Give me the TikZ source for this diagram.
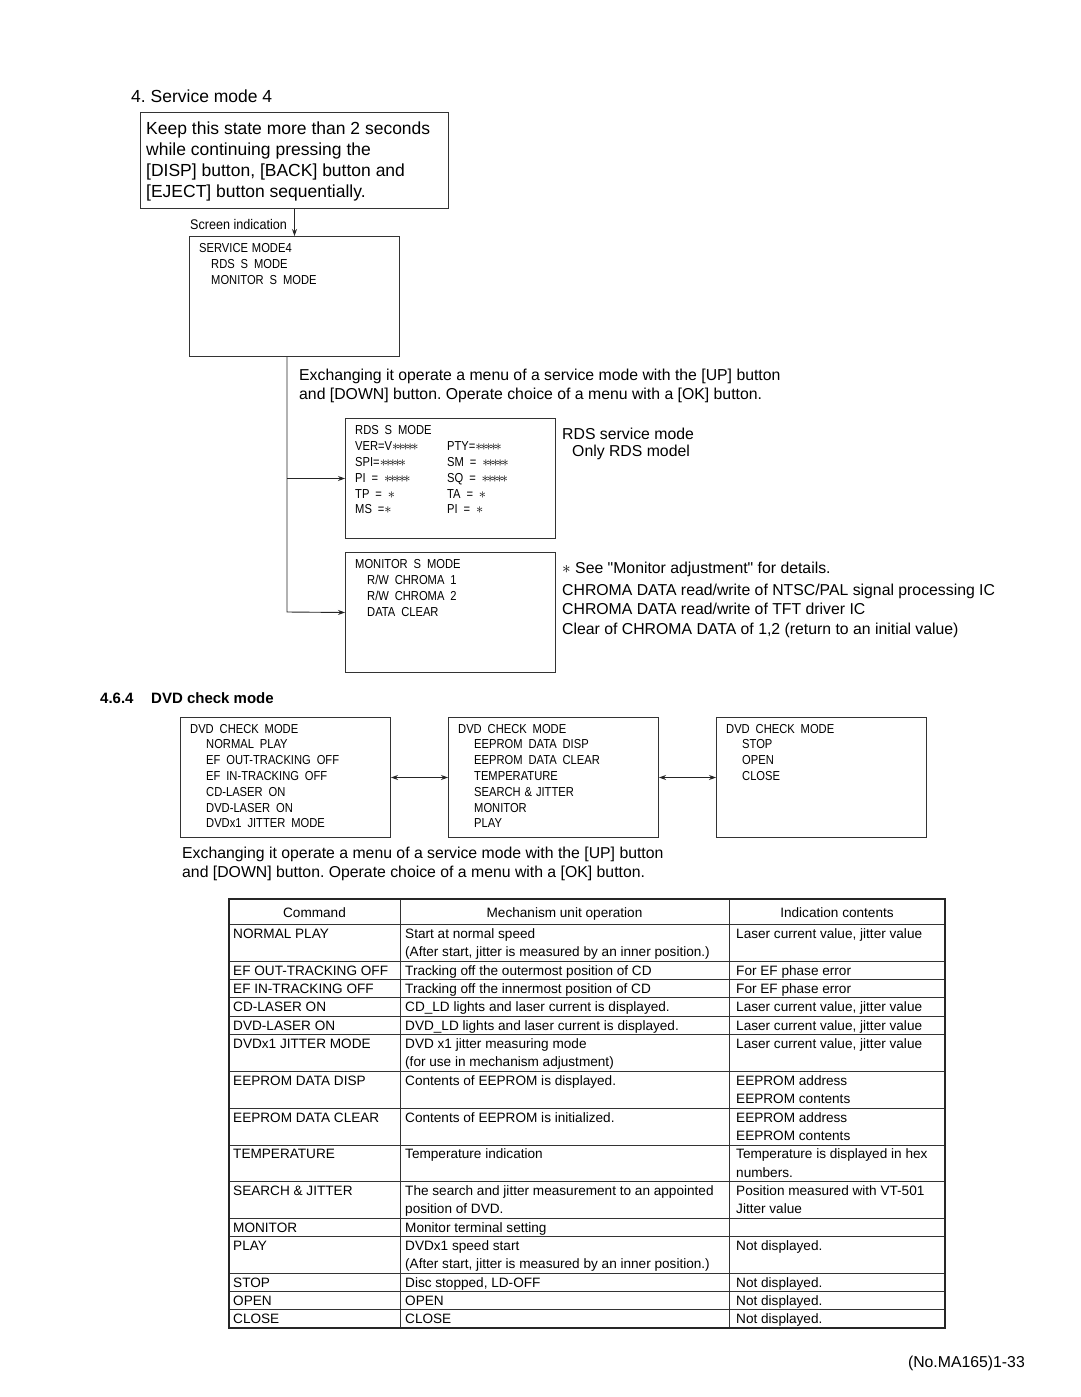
\documentclass[tikz,border=0pt]{standalone}
\usepackage{fontspec}
\setmainfont{Liberation Sans}
\newfontfamily\plainfont{Liberation Sans}
\newfontfamily\boxfont[FakeStretch=0.86,WordSpace=1.9]{Liberation Sans}
\newfontfamily\narrowfont[FakeStretch=0.9]{Liberation Sans}
\usetikzlibrary{arrows.meta}
\newcommand{\onestar}{{\fontsize{15.5}{15}\selectfont$\ast$}}
\newcommand{\stars}[1]{{\fontsize{15.5}{15}\selectfont$\foreach\k in {1,...,#1}{{\ast}\kern-2.4pt}$}}
\tikzset{
  frame/.style={draw=black!80, line width=1pt, inner sep=0pt, anchor=north west, minimum width=210, minimum height=120},
  txt/.style={anchor=base west, inner sep=0pt},
  big/.style={txt, font=\fontsize{17.5}{21}\selectfont},
  mid/.style={txt, font=\fontsize{15.8}{19}\selectfont},
  small/.style={txt, font=\boxfont\fontsize{13}{15}\selectfont},
  tcell/.style={txt, font=\fontsize{13.6}{16}\selectfont},
  arr/.style={draw=black!85, line width=0.9pt, -{Stealth[length=7pt,width=5pt]}},
  darr/.style={draw=black!85, line width=0.9pt, {Stealth[length=7pt,width=5pt]}-{Stealth[length=7pt,width=5pt]}},
  thin/.style={draw=black!80, line width=0.9pt},
  thick/.style={draw=black!85, line width=1.8pt}
}
\begin{document}
\frenchspacing
\begin{tikzpicture}[x=1pt,y=-1pt]
\useasboundingbox[fill=white] (0,0) rectangle (1080,1397);

% ---------- Service mode 4 ----------
\node[big] (head) at (131,102) {4. Service mode 4};
\node[frame, minimum width=308, minimum height=96] (b1) at (140,112) {};
\node[big] (b1l1) at (146,134) {Keep this state more than 2 seconds};
\node[big] (b1l2) at (146,155) {while continuing pressing the};
\node[big] (b1l3) at (146,176) {[DISP] button, [BACK] button and};
\node[big] (b1l4) at (146,197) {[EJECT] button sequentially.};

\node[txt, font=\narrowfont\fontsize{14}{16}\selectfont] (scr) at (190,229) {Screen indication};
\node[frame] (b2) at (189,236) {};
\node[small] (b2l1) at (199,252) {SERVICE\hspace{-2pt} MODE4};
\node[small] (b2l2) at (211,268) {RDS S MODE};
\node[small] (b2l3) at (211,284) {MONITOR S MODE};
\draw[arr] (b1.south) -- (b2.north);

\node[mid] (ex1) at (299,380) {Exchanging it operate a menu of a service mode with the [UP] button};
\node[mid] (ex2) at (299,399) {and [DOWN] button. Operate choice of a menu with a [OK] button.};

\node[frame] (rds) at (345,418) {};
\node[small] (r1) at (355,434) {RDS S MODE};
\node[small] (r2) at (355,450) {VER=V\stars{5}};
\node[small] (r3) at (355,466) {SPI=\stars{5}};
\node[small] (r4) at (355,482) {PI\ = \stars{5}};
\node[small] (r5) at (355,498) {TP = \onestar};
\node[small] (r6) at (355,513) {MS =\onestar};
\node[small] (r7) at (447,450) {PTY=\stars{5}};
\node[small] (r8) at (447,466) {SM = \stars{5}};
\node[small] (r9) at (447,482) {SQ = \stars{5}};
\node[small] (r10) at (447,498) {TA = \onestar};
\node[small] (r11) at (447,513) {PI = \onestar};

\node[frame] (mon) at (345,552) {};
\node[small] (m1) at (355,568) {MONITOR S MODE};
\node[small] (m2) at (367,584) {R/W CHROMA 1};
\node[small] (m3) at (367,600) {R/W CHROMA 2};
\node[small] (m4) at (367,616) {DATA CLEAR};

\coordinate (bend) at (287,612);
\draw[arr] (b2.south -| bend) -- (bend) -- (mon.west);
\draw[arr] (bend |- rds.west) -- (rds.west);

\node[mid] (n1) at (562,439) {RDS service mode};
\node[mid] (n2) at (572,456) {Only RDS model};
\node[mid] (n3) at (562,573) {{\fontsize{16}{16}\selectfont$\ast$} {\plainfont See "Monitor adjustment" for details.}};
\node[mid] (n4) at (562,595) {CHROMA DATA read/write of NTSC/PAL signal processing IC};
\node[mid] (n5) at (562,614) {CHROMA DATA read/write of TFT driver IC};
\node[mid] (n6) at (562,634) {Clear of CHROMA DATA of 1,2 (return to an initial value)};

% ---------- DVD check mode ----------
\node[txt, font=\bfseries\fontsize{15}{18}\selectfont] (sec) at (100,703) {4.6.4};
\node[txt, font=\bfseries\fontsize{15}{18}\selectfont] (sect) at (151,703) {DVD check mode};

\node[frame] (dA) at (180,717) {};
\node[frame] (dB) at (448,717) {};
\node[frame] (dC) at (716,717) {};
\foreach \bx in {dA,dB,dC}{
  \node[small] (\bx t) at ([xshift=10pt,yshift=-16pt]\bx.north west) {DVD CHECK MODE};
}
\foreach \t [count=\i] in {NORMAL PLAY, EF OUT-TRACKING OFF, EF IN-TRACKING OFF, CD-LASER ON, DVD-LASER ON, DVDx1 JITTER MODE}{
  \node[small] (dA\i) at (206,733+15.8*\i) {\t};
}
\foreach \t [count=\i] in {EEPROM DATA DISP, EEPROM DATA CLEAR, TEMPERATURE, SEARCH\hspace{-2pt} \&\hspace{-2pt} JITTER, MONITOR, PLAY}{
  \node[small] (dB\i) at (474,733+15.8*\i) {\t};
}
\foreach \t [count=\i] in {STOP, OPEN, CLOSE}{
  \node[small] (dC\i) at (742,733+15.8*\i) {\t};
}
\draw[darr] (dA.east) -- (dB.west);
\draw[darr] (dB.east) -- (dC.west);

\node[mid] (ex3) at (182,858) {Exchanging it operate a menu of a service mode with the [UP] button};
\node[mid] (ex4) at (182,877) {and [DOWN] button. Operate choice of a menu with a [OK] button.};

% ---------- Table ----------
\foreach \yy in {924,961,979,997,1016,1034,1071,1108,1145,1181,1218,1236,1273,1291,1309}{
  \draw[thin] (229,\yy) -- (945,\yy);
}
\draw[thin] (400,899) -- (400,1328);
\draw[thin] (729,899) -- (729,1328);
\draw[thick] (229,899) rectangle (945,1328);

\node[tcell, anchor=base] (hd1) at (314.5,917) {Command};
\node[tcell, anchor=base] (hd2) at (564.5,917) {Mechanism unit operation};
\node[tcell, anchor=base] (hd3) at (837,917) {Indication contents};

\foreach \yy/\ta/\tb/\tc [count=\i] in {
  938/NORMAL PLAY/Start at normal speed/{Laser current value, jitter value},
  975/EF OUT-TRACKING OFF/Tracking off the outermost position of CD/For EF phase error,
  993/EF IN-TRACKING OFF/Tracking off the innermost position of CD/For EF phase error,
  1011/CD-LASER ON/CD\_LD lights and laser current is displayed./{Laser current value, jitter value},
  1030/DVD-LASER ON/DVD\_LD lights and laser current is displayed./{Laser current value, jitter value},
  1048/DVDx1 JITTER MODE/DVD x1 jitter measuring mode/{Laser current value, jitter value},
  1085/EEPROM DATA DISP/Contents of EEPROM is displayed./EEPROM address,
  1122/EEPROM DATA CLEAR/Contents of EEPROM is initialized./EEPROM address,
  1158/TEMPERATURE/Temperature indication/Temperature is displayed in hex,
  1195/SEARCH \& JITTER/The search and jitter measurement to an appointed/Position measured with VT-501,
  1232/MONITOR/Monitor terminal setting/{},
  1250/PLAY/DVDx1 speed start/Not displayed.,
  1287/STOP/{Disc stopped, LD-OFF}/Not displayed.,
  1305/OPEN/OPEN/Not displayed.,
  1323/CLOSE/CLOSE/Not displayed.}{
  \node[tcell] (ca\i) at (233,\yy) {\ta};
  \node[tcell] (cb\i) at (405,\yy) {\tb};
  \node[tcell] (cc\i) at (736,\yy) {\tc};
}
\foreach \yy/\tb/\tc [count=\i] in {
  956/{(After start, jitter is measured by an inner position.)}/{},
  1066/(for use in mechanism adjustment)/{},
  1103/{}/EEPROM contents,
  1140/{}/EEPROM contents,
  1177/{}/numbers.,
  1213/position of DVD./Jitter value,
  1268/{(After start, jitter is measured by an inner position.)}/{}}{
  \node[tcell] (cd\i) at (405,\yy) {\tb};
  \node[tcell] (ce\i) at (736,\yy) {\tc};
}

\node[txt, anchor=base east, font=\fontsize{15.8}{19}\selectfont] (foot) at (1025,1367) {(No.MA165)1-33};
\end{tikzpicture}
\end{document}
